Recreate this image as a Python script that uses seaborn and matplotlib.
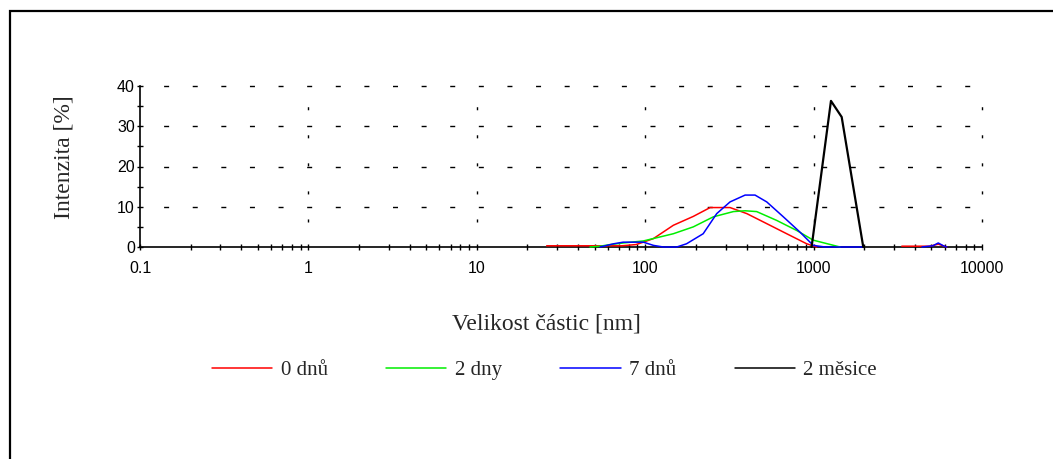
import numpy as np
import pandas as pd
import matplotlib
matplotlib.use("Agg")
import matplotlib.pyplot as plt
import seaborn as sns
from matplotlib.lines import Line2D
from matplotlib.patches import Rectangle
from matplotlib.ticker import LogLocator, FixedLocator, FuncFormatter

nan = np.nan

# particle size distributions (nan = gap in the line)
series_names = ["0 dnů", "2 dny", "7 dnů", "2 měsice"]

size_0 = [26, 47, 72.5, 88, 97.5, 112, 147, 193, 243, 319, 401, 527, 692, 910, 1043,
          nan, 3340, 4900, 5500, 6170]
int_0 = [0.3, 0.3, 0.3, 0.6, 1.2, 2.1, 5.4, 7.6, 9.8, 9.8, 8.3, 5.8, 3.3, 0.8, 0.0,
         nan, 0.2, 0.2, 0.7, 0.0]

size_2 = [47, 54, 62, 74, 97.5, 147, 193, 254, 334, 392, 459, 604, 794, 995, 1435]
int_2 = [0.0, 0.2, 0.6, 1.0, 1.5, 3.3, 5.0, 7.5, 8.8, 9.0, 8.8, 6.6, 4.1, 1.7, 0.0]

size_7 = [54, 65, 74, 97.5, 112, 128, 154, 176, 221, 266, 319, 392, 449, 527, 661, 830,
          995, 1169, 1972, nan, 4400, 5100, 5500, 5900, 6170]
int_7 = [0.0, 0.8, 1.2, 1.2, 0.4, 0.0, 0.0, 0.8, 3.3, 8.3, 11.2, 12.9, 12.9, 11.2, 7.5, 3.7,
         0.4, 0.0, 0.0, nan, 0.0, 0.3, 1.0, 0.3, 0.0]

size_m = [973, 1268, 1468, 1972]
int_m = [0.0, 36.3, 32.3, 0.0]

colors = {"0 dnů": "#ff0000", "2 dny": "#00ee00", "7 dnů": "#0000ff", "2 měsice": "#000000"}

rows = []
for name, xs, ys in zip(series_names, [size_0, size_2, size_7, size_m],
                        [int_0, int_2, int_7, int_m]):
    seg = 0
    for x, y in zip(xs, ys):
        if np.isnan(x):
            seg += 1
            continue
        rows.append({"size": x, "intensity": y, "series": name, "seg": f"{name}_{seg}"})
df = pd.DataFrame(rows)

sns.set_style("white")
plt.rcParams["font.family"] = ["Liberation Sans", "DejaVu Sans"]
serif = ["Liberation Serif", "DejaVu Serif"]

fig = plt.figure(figsize=(10.53, 4.59), dpi=100)
ax = fig.add_axes([140 / 1053, 1 - 247 / 459, 842 / 1053, 161 / 459])
ax.set_xscale("log")

sns.lineplot(data=df, x="size", y="intensity", hue="series", units="seg",
             estimator=None, sort=False, palette=colors, legend=False,
             linewidth=1.1, ax=ax)
for ln in ax.lines:
    ln.set_zorder(3)
    ln.set_clip_on(False)
    if ln.get_color() in ("#000000", "k", (0.0, 0.0, 0.0, 1.0)):
        ln.set_linewidth(1.6)

ax.set_xlim(0.1, 10000)
ax.set_ylim(0, 40)

# axes, ticks
for s in ["top", "right"]:
    ax.spines[s].set_visible(False)
for s in ["left", "bottom"]:
    ax.spines[s].set_color("black")
    ax.spines[s].set_linewidth(1.2)

ax.xaxis.set_major_locator(FixedLocator([0.1, 1, 10, 100, 1000, 10000]))
ax.xaxis.set_minor_locator(LogLocator(base=10, subs=np.arange(2, 10), numticks=20))
ax.xaxis.set_major_formatter(FuncFormatter(lambda v, p: f"{v:g}"))
ax.yaxis.set_major_locator(FixedLocator([0, 10, 20, 30, 40]))
ax.yaxis.set_minor_locator(FixedLocator([5, 15, 25, 35]))

ax.tick_params(axis="both", which="both", direction="inout", length=4.5, width=1,
               color="black", labelsize=11.5, labelcolor="black",
               bottom=True, left=True)
ax.tick_params(axis="x", which="major", pad=8)
ax.tick_params(axis="y", which="major", pad=1.5)

# dotted-looking grid made of short dashes
for yv in [10, 20, 30, 40]:
    ax.plot([0.1, 10000], [yv, yv], color="black", lw=1.0,
            linestyle=(3.6, (3.6, 17.0)), zorder=1, clip_on=False)
for xv in [1, 10, 100, 1000, 10000]:
    ax.plot([xv, xv], [0, 40], color="black", lw=1.0,
            linestyle=(2.2, (2.2, 18.0)), zorder=1, clip_on=False)

ax.set_xlabel("Velikost částic [nm]", fontsize=17, family=serif)
ax.set_ylabel("Intenzita [%]", fontsize=17, family=serif)
ax.xaxis.set_label_coords(0.483, -0.41)
ax.yaxis.set_label_coords(-0.078, 0.56)

handles = [Line2D([0], [0], color=colors[n], lw=1.1) for n in series_names]
fig.legend(handles, series_names, loc="center", bbox_to_anchor=(0.517, 0.193),
           ncol=4, frameon=False, prop={"family": serif, "size": 15},
           handlelength=2.9, handletextpad=0.4, columnspacing=2.8)

# outer frame (left and top edges visible)
fig.add_artist(Rectangle((10 / 1053, -0.1), 1.2, 1 - 11 / 459 + 0.1,
                         transform=fig.transFigure, fill=False,
                         edgecolor="black", lw=1.6))

fig.savefig("out.png", dpi=100)
